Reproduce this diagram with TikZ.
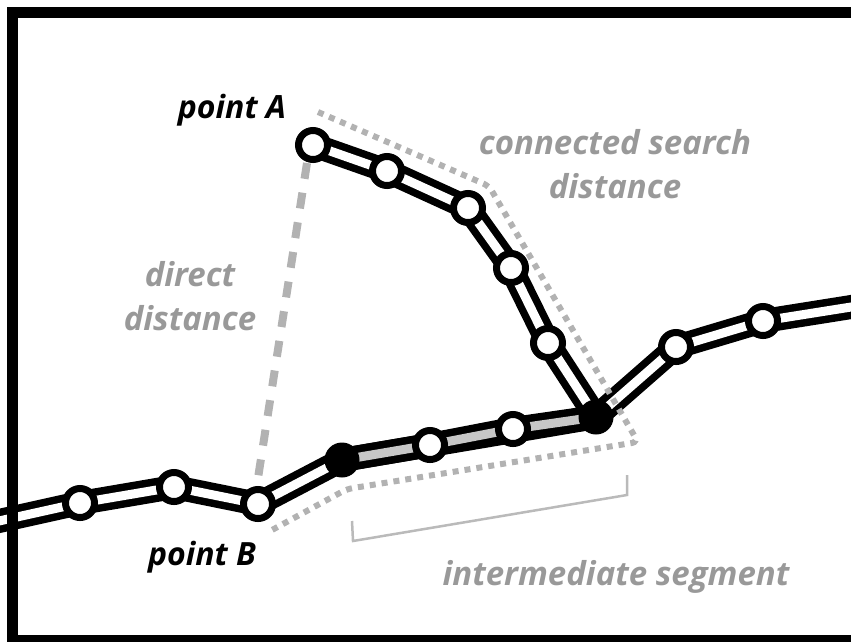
\documentclass[tikz,border=0pt]{standalone}
\usepackage{fontspec}
\setmainfont{Open Sans}
\usetikzlibrary{backgrounds}

\tikzset{
  stop/.style={circle, draw=black, fill=white, line width=7pt, minimum size=29pt, inner sep=0pt},
  hub/.style={circle, fill=black, minimum size=35pt, inner sep=0pt},
  track/.style={draw=black, line width=7.5pt, double=white, double distance=9pt, line join=round},
  segtrack/.style={track, double=black!22},
  directdist/.style={draw=black!30, line width=8pt, dash pattern=on 16pt off 14pt},
  searchdist/.style={draw=black!30, line width=6pt, dash pattern=on 6pt off 6pt, rounded corners=6pt},
  bracket/.style={draw=black!27, line width=2.5pt},
  ptlabel/.style={font=\fontsize{32}{38}\selectfont\bfseries\itshape},
  note/.style={text=black!40, align=center, font=\fontsize{33}{44}\selectfont\bfseries\itshape}
}

\begin{document}
\begin{tikzpicture}[x=1pt, y=-1pt, line cap=butt]
    \useasboundingbox (0,0) rectangle (851,641);
    \clip (0,0) rectangle (851,641);

    % frame
    \draw[line width=11pt] (12.5,12) rectangle (880,640);

    % branch from point A
    \node[stop] (ptA) at (313,145) {};
    \node[stop] (a1) at (387,171) {};
    \node[stop] (a2) at (468,208) {};
    \node[stop] (a3) at (511,268) {};
    \node[stop] (a4) at (548,343) {};

    % main line
    \coordinate (wL) at (-10,523);
    \node[stop] (b1) at (80,503) {};
    \node[stop] (b2) at (174,487) {};
    \node[stop] (ptB) at (258,504) {};
    \node[hub] (jW) at (342,460) {};
    \node[stop] (s1) at (430,445) {};
    \node[stop] (s2) at (513,429) {};
    \node[hub] (jE) at (596,417) {};
    \node[stop] (e1) at (676,347) {};
    \node[stop] (e2) at (763,321) {};
    \coordinate (wR) at (870,304);

    \begin{scope}[on background layer]
        \draw[track] (wL) -- (b1.center) -- (b2.center) -- (ptB.center) -- (jW.center)
            -- (jE.center) -- (e1.center) -- (e2.center) -- (wR);
        \draw[track] (ptA.center) -- (a1.center) -- (a2.center) -- (a3.center)
            -- (a4.center) -- (jE.center);
        \draw[segtrack] (jW.center) -- (s1.center) -- (s2.center) -- (jE.center);
    \end{scope}

    % distances
    \draw[directdist] ([xshift=-6pt]ptA.south) -- ([yshift=8pt]ptB.north);
    \draw[searchdist] (318,112) -- (489,186) -- (638,442) -- (347,489) -- (272,530);
    \draw[bracket] (352,521) -- (353,541) -- (627,495) -- (627,475);

    % labels
    \node[ptlabel] (lblA) at (232,110) {point A};
    \node[ptlabel] (lblB) at (202,557) {point B};
    \node[note] (lblSearch) at (615,164) {connected search\\distance};
    \node[note] (lblDirect) at (190,296) {direct\\distance};
    \node[note] (lblSeg) at (616,577) {intermediate segment};
\end{tikzpicture}
\end{document}
